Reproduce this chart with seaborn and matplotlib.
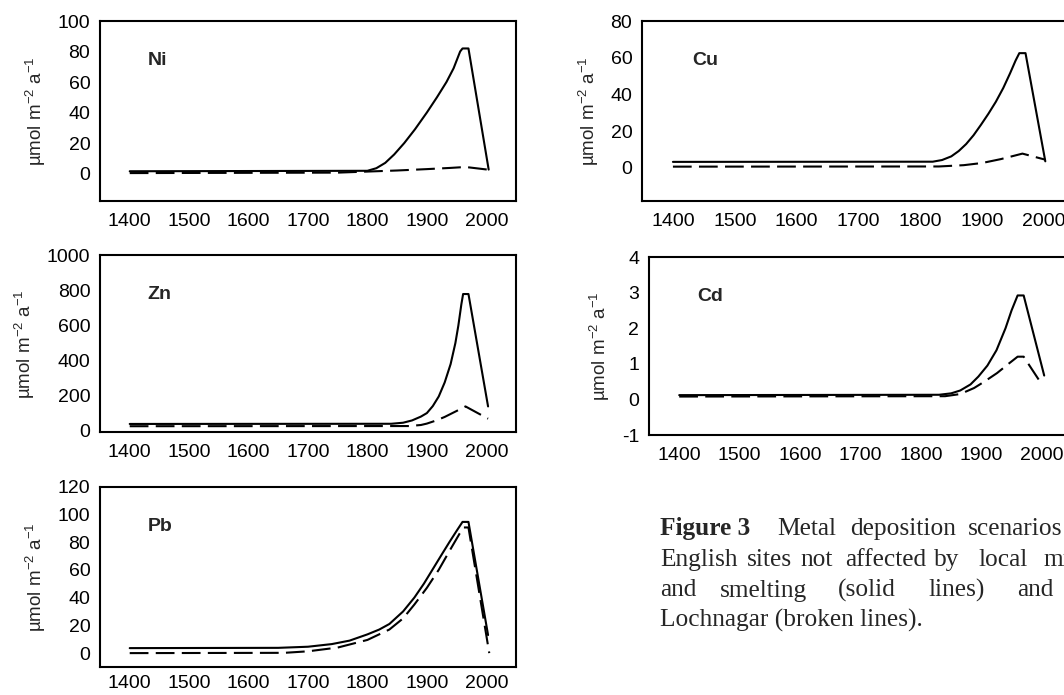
import numpy as np
import pandas as pd
import matplotlib
matplotlib.use("Agg")
import matplotlib.pyplot as plt
import seaborn as sns

# ---------------- data ----------------
ni_years_solid = [1400, 1800, 1815, 1830, 1845, 1862, 1880, 1900, 1917, 1933, 1945, 1956, 1960, 1970, 2004]
ni_solid = [1.5, 1.8, 3.5, 7, 12.5, 20, 29, 40, 50, 60, 69, 80, 82, 82, 2.6]
ni_years_broken = [1400, 1750, 1800, 1850, 1900, 1940, 1965, 2004]
ni_broken = [0.3, 0.6, 1.3, 2.0, 2.9, 3.7, 4.3, 2.5]

cu_years_solid = [1400, 1820, 1835, 1850, 1862, 1874, 1886, 1898, 1910, 1922, 1934, 1945, 1954, 1960, 1970, 2002]
cu_solid = [3.3, 3.4, 4.3, 6.3, 9.2, 13, 17.8, 23.5, 29.5, 36, 43.5, 51.5, 58.5, 62.5, 62.5, 3.6]
cu_years_broken = [1400, 1830, 1870, 1900, 1930, 1950, 1965, 2002]
cu_broken = [0.7, 0.8, 1.5, 2.7, 4.8, 6.5, 7.8, 4.5]

zn_years_solid = [1400, 1840, 1860, 1875, 1890, 1900, 1910, 1920, 1930, 1940, 1948, 1953, 1958, 1961, 1970, 2003]
zn_solid = [38, 39, 45, 58, 80, 100, 140, 195, 275, 380, 500, 600, 720, 780, 780, 138]
zn_years_broken = [1400, 1870, 1890, 1900, 1915, 1930, 1950, 1965, 2003]
zn_broken = [25, 26, 32, 40, 57, 78, 112, 138, 68]

cd_years_solid = [1400, 1830, 1850, 1865, 1882, 1895, 1910, 1925, 1940, 1950, 1960, 1970, 2004]
cd_solid = [0.12, 0.13, 0.17, 0.25, 0.42, 0.64, 0.95, 1.38, 2.0, 2.5, 2.92, 2.92, 0.67]
cd_years_broken = [1400, 1840, 1865, 1888, 1905, 1926, 1945, 1960, 1970, 1999]
cd_broken = [0.08, 0.09, 0.15, 0.32, 0.5, 0.74, 1.0, 1.2, 1.2, 0.45]

pb_years_solid = [1400, 1650, 1700, 1740, 1770, 1800, 1820, 1837, 1860, 1879, 1895, 1910, 1925, 1938, 1950, 1960, 1970, 2003]
pb_solid = [3.6, 3.8, 4.6, 6.5, 9, 13.5, 17, 21, 30, 40, 50, 60.5, 71, 80, 88, 94.5, 94.5, 13]
pb_years_broken = [1400, 1660, 1700, 1750, 1800, 1837, 1860, 1879, 1900, 1920, 1940, 1955, 1962, 1970, 2005]
pb_broken = [0.0, 0.2, 1.3, 4.0, 9.5, 17, 25, 35, 47, 60, 75, 86, 90.5, 90.5, 0.0]

x_ticks = [1400, 1500, 1600, 1700, 1800, 1900, 2000]

panels = [
    # name, solid years, solid values, broken years, broken values, ylim, yticks
    ("Ni", ni_years_solid, ni_solid, ni_years_broken, ni_broken, (-18, 100), [0, 20, 40, 60, 80, 100]),
    ("Cu", cu_years_solid, cu_solid, cu_years_broken, cu_broken, (-18, 80), [0, 20, 40, 60, 80]),
    ("Zn", zn_years_solid, zn_solid, zn_years_broken, zn_broken, (-8, 1000), [0, 200, 400, 600, 800, 1000]),
    ("Cd", cd_years_solid, cd_solid, cd_years_broken, cd_broken, (-1, 4), [-1, 0, 1, 2, 3, 4]),
    ("Pb", pb_years_solid, pb_solid, pb_years_broken, pb_broken, (-10, 120), [0, 20, 40, 60, 80, 100, 120]),
]

# ---------------- style ----------------
sns.set_style("white")
plt.rcParams["font.family"] = ["Liberation Sans", "DejaVu Sans"]
plt.rcParams["mathtext.fontset"] = "custom"
plt.rcParams["mathtext.rm"] = "Liberation Sans"
plt.rcParams["mathtext.it"] = "Liberation Sans:italic"
plt.rcParams["mathtext.bf"] = "Liberation Sans:bold"
plt.rcParams["mathtext.sf"] = "Liberation Sans"
plt.rcParams["axes.unicode_minus"] = False

W, H = 1064, 695
fig = plt.figure(figsize=(W / 100, H / 100), dpi=100)

# axes boxes in pixels: left, top, right, bottom
boxes = {
    "Ni": (100, 21, 516, 201),
    "Cu": (642, 21, 1075, 201),
    "Zn": (100, 255.5, 516, 432),
    "Cd": (649, 257, 1072, 435),
    "Pb": (100, 486.5, 516, 667),
}

for name, xs, ys, xb, yb, ylim, yticks in panels:
    l, t, r, b = boxes[name]
    ax = fig.add_axes([l / W, 1 - b / H, (r - l) / W, (b - t) / H])
    sns.lineplot(x=xs, y=ys, ax=ax, color="black", linewidth=1.5, sort=False)
    sns.lineplot(x=xb, y=yb, ax=ax, color="black", linewidth=1.5, sort=False,
                 linestyle=(0, (9, 3.5)))
    ax.set_xlim(1350, 2050)
    ax.set_ylim(*ylim)
    ax.set_xticks(x_ticks)
    ax.set_yticks(yticks)
    for s in ax.spines.values():
        s.set_visible(True)
        s.set_color("black")
        s.set_linewidth(1.5)
    ax.tick_params(direction="in", length=3.5, width=1.2, colors="black",
                   labelsize=14, pad=7)
    ax.tick_params(axis="x", pad=(6 if name == "Pb" else 8.5))
    ax.set_ylabel(r"µmol m$^{\mathsf{-2}}$ a$^{\mathsf{-1}}$", fontsize=13.5, labelpad=7)
    ax.text(0.115, 0.78, name, transform=ax.transAxes, fontsize=14,
            fontweight="bold", va="center", ha="left")
    ax.grid(False)

# ---------------- caption ----------------
serif = ["Liberation Serif", "DejaVu Serif"]
cap_size = 18.3
def word(xpx, ypx, s, bold=False):
    fig.text(xpx / W, 1 - ypx / H, s, fontsize=cap_size, family=serif,
             fontweight="bold" if bold else "normal", va="baseline", ha="left")

word(660, 535, "Figure 3", bold=True)
word(777, 535, "Metal")
word(850, 535, "deposition")
word(968, 535, "scenarios")

word(660, 566, "English")
word(747, 566, "sites")
word(800, 566, "not")
word(845, 566, "affected")
word(934, 566, "by")
word(978, 566, "local")
word(1043, 566, "mining")

word(660, 596.5, "and")
word(720, 596.5, "smelting")
word(838, 596.5, "(solid")
word(928, 596.5, "lines)")
word(1017, 596.5, "and")

word(660, 627, "Lochnagar (broken lines).")

fig.savefig("out.png", dpi=100)
